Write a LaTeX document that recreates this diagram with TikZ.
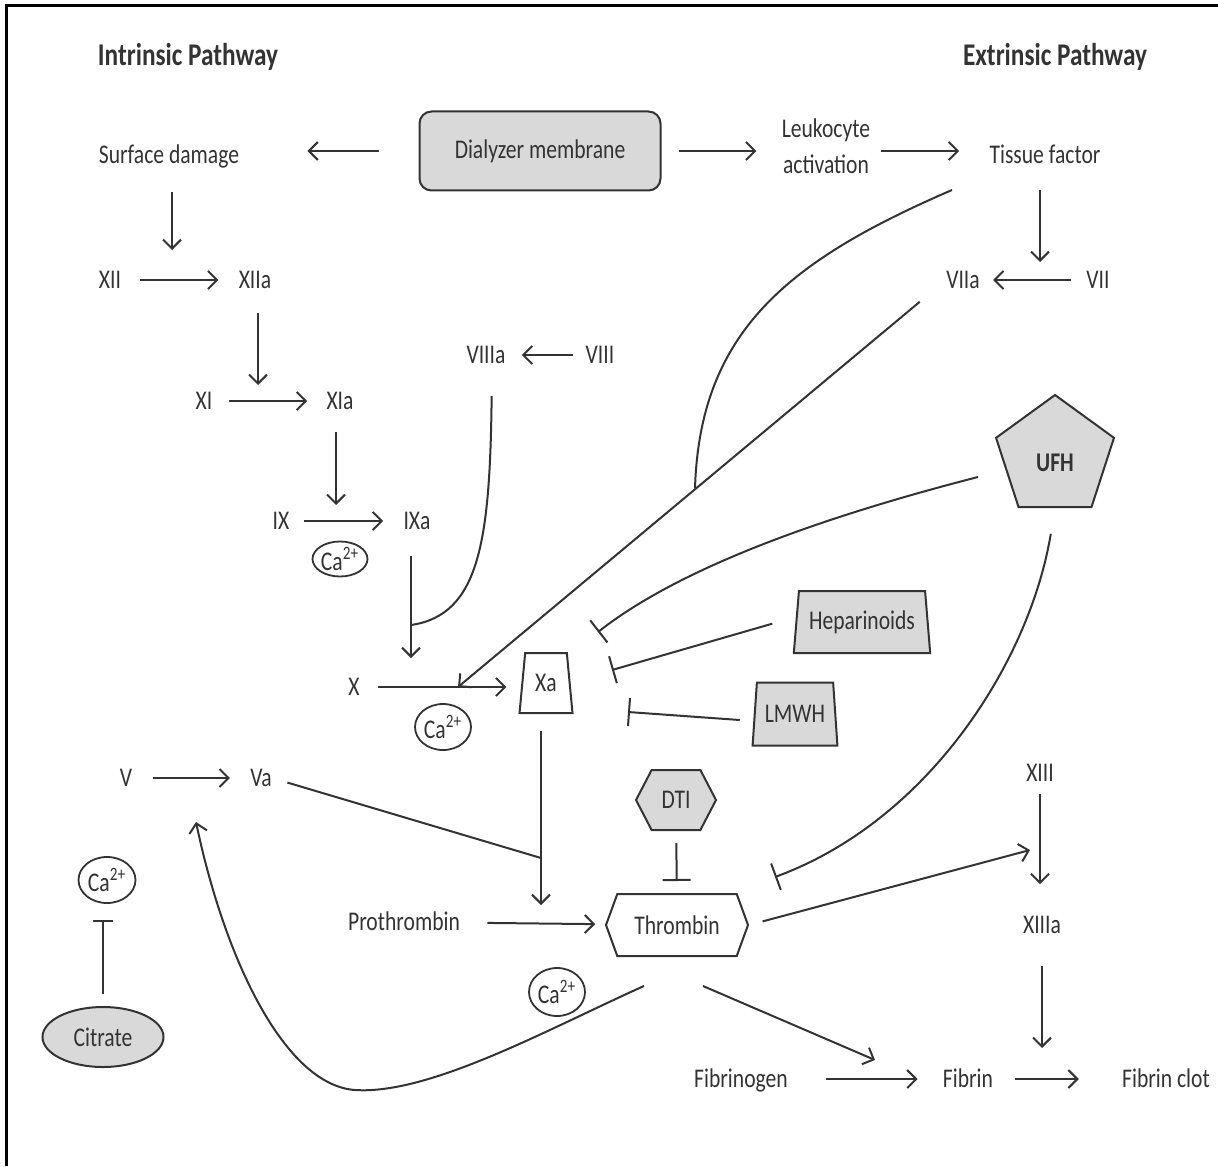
\documentclass[tikz,border=0pt]{standalone}
\usepackage{fontspec}
\setmainfont{Carlito}[FakeStretch=0.8]
\usetikzlibrary{shapes.geometric,shapes.symbols,arrows.meta,calc}
\definecolor{ink}{HTML}{333333}
\definecolor{boxfill}{HTML}{D9D9D9}
\begin{document}
\begin{tikzpicture}[x=0.5pt,y=-0.5pt,
  every node/.style={text=ink, font=\fontsize{13.5pt}{18pt}\selectfont},
  lbl/.style={inner sep=0pt, text height=9.5pt, text depth=1pt},
  title/.style={lbl, font=\bfseries\fontsize{15.8pt}{18pt}\selectfont},
  shp/.style={draw=ink, line width=1pt, inner sep=0pt},
  gshp/.style={shp, fill=boxfill},
  ca/.style={ellipse, draw=ink, line width=0.9pt, inner sep=0pt},
  trap/.style={trapezium, trapezium stretches=true, trapezium left angle=#1, trapezium right angle=#1},
  hexa/.style={signal, signal to=west and east, signal pointer angle=#1},
  line/.style={draw=ink, line width=1pt},
  arr/.style={line, -{Straight Barb[length=4.5pt,width=9pt,line width=1pt]}},
  inh/.style={line, -{Bar[width=14pt,line width=1pt]}}
]
\useasboundingbox (0,0) rectangle (1218,1166);
\draw[line width=1.5pt, black] (6,1166) -- (6,6) -- (1218,6);

% titles
\node[title] (tin) at (188,57) {Intrinsic Pathway};
\node[title] (tex) at (1055,57) {Extrinsic Pathway};

% shapes
\node[gshp, rectangle, rounded corners=6pt, minimum width=120.5pt, minimum height=39.5pt] (dial) at (540,151) {Dialyzer membrane};
\node[shp, trap=80.5, minimum width=26.5pt, minimum height=30pt] (xa) at (546,683) {Xa};
\node[gshp, trap=79.5, minimum width=68.5pt, minimum height=31pt] (hep) at (862,622) {Heparinoids};
\node[gshp, trap=79, minimum width=42.5pt, minimum height=31.5pt] (lmwh) at (795,714) {LMWH};
\node[gshp, regular polygon, regular polygon sides=5, minimum size=62pt] (ufh) at (1055,457) {};
\node[lbl, font=\bfseries\fontsize{13.5pt}{18pt}\selectfont] (ufhtext) at (1055,463) {UFH};
\node[gshp, hexa=125, minimum width=40pt, minimum height=30pt] (dti) at (676,800) {DTI};
\node[shp, fill=white, hexa=140, minimum width=71pt, minimum height=31pt] (thr) at (677,925) {Thrombin};
\node[gshp, ellipse, minimum width=60.5pt, minimum height=30pt] (cit) at (103,1037) {Citrate};

% calcium
\node[ca, minimum width=27.5pt, minimum height=17.5pt] (ca1) at (340,559) {Ca\textsuperscript{2+}};
\node[ca, minimum width=28pt, minimum height=23pt] (ca2) at (443,727) {Ca\textsuperscript{2+}};
\node[ca, minimum width=28pt, minimum height=24pt] (ca3) at (557,992) {Ca\textsuperscript{2+}};
\node[ca, minimum width=28.5pt, minimum height=23pt] (ca4) at (107,880) {Ca\textsuperscript{2+}};

% text labels
\node[lbl] (surf) at (169,155) {Surface damage};
\node[lbl, align=center] (leuk) at (826,165) {Leukocyte\\activation};
\node[lbl] (tissue) at (1045,155) {Tissue factor};
\node[lbl] (xii) at (110,280) {XII};
\node[lbl] (xiia) at (255,280) {XIIa};
\node[lbl] (xi) at (204,401) {XI};
\node[lbl] (xia) at (340,401) {XIa};
\node[lbl] (ix) at (281,521) {IX};
\node[lbl] (ixa) at (417,521) {IXa};
\node[lbl] (viiia) at (486,355) {VIIIa};
\node[lbl] (viii) at (600,355) {VIII};
\node[lbl] (viia) at (963,280) {VIIa};
\node[lbl] (vii) at (1098,280) {VII};
\node[lbl] (nX) at (354,687) {X};
\node[lbl] (v) at (126,778) {V};
\node[lbl] (va) at (261,778) {Va};
\node[lbl] (xiii) at (1040,773) {XIII};
\node[lbl] (xiiia) at (1042,925) {XIIIa};
\node[lbl] (proth) at (404,922) {Prothrombin};
\node[lbl] (fibrinogen) at (741,1079) {Fibrinogen};
\node[lbl] (fibrin) at (968,1079) {Fibrin};
\node[lbl] (clot) at (1166,1079) {Fibrin clot};

% free ends
\coordinate (c1) at (172,250);
\coordinate (c2) at (258,385);
\coordinate (c3) at (336,505);
\coordinate (c4) at (411,658);
\coordinate (c5) at (1040,262);
\coordinate (c6) at (458,687);
\coordinate (c7) at (541,905);
\coordinate (c8) at (1030,850);
\coordinate (c9) at (1042,1048);
\coordinate (c10) at (875,1060);
\coordinate (c11) at (196,822);
\coordinate (j1) at (411,625);
\coordinate (j2) at (695,488);
\coordinate (j3) at (541,858);
\coordinate (t0) at (952,190);
\coordinate (i1) at (598,632);
\coordinate (i2) at (612,670);
\coordinate (i3) at (628,712);
\coordinate (i4) at (775,877);

% connectors
\draw[arr, shorten <=20pt, shorten >=34pt] (dial.west) -- (surf.east |- dial.west);
\draw[arr, shorten <=8.5pt, shorten >=12.5pt] (dial.east) -- (leuk.west |- dial.east);
\draw[arr, shorten <=5pt, shorten >=15pt] (leuk.east |- dial.east) -- (tissue.west |- dial.east);
\draw[arr, shorten <=13pt] (c1 |- surf.south) -- (c1);
\draw[arr, shorten <=9.5pt, shorten >=10pt] (xii) -- (xiia);
\draw[arr, shorten <=11pt] (c2 |- xiia.south) -- (c2);
\draw[arr, shorten <=8pt, shorten >=9.5pt] (xi) -- (xia);
\draw[arr, shorten <=10pt] (c3 |- xia.south) -- (c3);
\draw[arr, shorten <=7pt, shorten >=10pt] (ix) -- (ixa);
\draw[arr, shorten <=12pt] (c4 |- ixa.south) -- (c4);
\draw[arr, shorten <=6pt, shorten >=8pt] (viii) -- (viiia);
\draw[line, shorten <=15pt] ([xshift=3pt]viiia.south) .. controls (490,540) and (480,615) .. (j1);
\draw[arr, shorten <=12pt] (c5 |- tissue.south) -- (c5);
\draw[arr, shorten <=7.5pt, shorten >=6.5pt] (vii) -- (viia);
\draw[arr, shorten <=17pt] (viia.west) -- (c6);
\draw[line] (t0) .. controls (790,260) and (700,330) .. (j2);
\draw[arr, shorten <=9pt, shorten >=7.5pt] (nX) -- (nX -| xa.west);
\draw[arr, shorten <=8.5pt] (c7 |- xa.south) -- (c7);
\draw[line, shorten <=8pt] (va.east) -- (j3);
\draw[arr, shorten <=10pt, shorten >=10pt] (v) -- (va);
\draw[arr, shorten <=13.5pt, shorten >=5pt] (proth) -- (thr);
\draw[inh, shorten <=6pt, shorten >=6pt] (dti) -- (thr);
\draw[arr, shorten <=7pt] (thr.east) -- (c8);
\draw[arr, shorten <=5pt, shorten >=15pt] (xiii.south) -- (xiii.south |- xiiia.north);
\draw[arr, shorten <=15pt] (c9 |- xiiia.south) -- (c9);
\draw[arr, shorten <=19pt, shorten >=12.5pt] (fibrinogen) -- (fibrin);
\draw[arr, shorten <=11pt, shorten >=21.5pt] (fibrin) -- (clot);
\draw[arr] ([shift={(26,29)}]thr.south) -- (c10);
\draw[arr] ([shift={(-33,29)}]thr.south) .. controls (550,1028) and (430,1095) .. (355,1090) .. controls (285,1085) and (225,960) .. (c11);

% inhibitions
\draw[inh, shorten <=12pt] ([yshift=-7pt]ufh.west) .. controls (850,510) and (690,560) .. (i1);
\draw[inh, shorten <=12pt] ([yshift=2.5pt]hep.west) -- (i2);
\draw[inh, shorten <=7pt] ([yshift=-3.5pt]lmwh.west) -- (i3);
\draw[inh, shorten <=13pt] (ufh.south) .. controls (1030,660) and (930,820) .. (i4);
\draw[line, -{Bar[width=10pt,line width=1pt]}, shorten <=6pt, shorten >=8pt] (cit.north) -- (cit.north |- ca4.south);
\end{tikzpicture}
\end{document}
